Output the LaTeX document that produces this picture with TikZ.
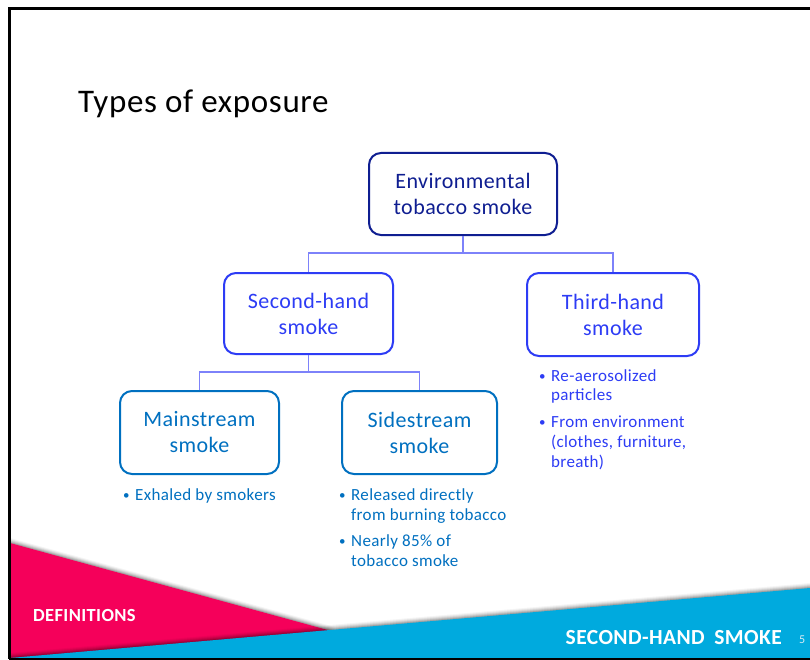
\documentclass[tikz,border=0pt]{standalone}
\usepackage{fontspec}
\setmainfont{Carlito}[LetterSpace=2]
\usetikzlibrary{calc}
\definecolor{navy}{RGB}{15,30,145}
\definecolor{brblue}{RGB}{45,60,245}
\definecolor{medblue}{RGB}{0,112,192}
\definecolor{connc}{RGB}{125,130,250}
\definecolor{pinkc}{RGB}{245,0,90}
\definecolor{cyanc}{RGB}{0,170,222}
\definecolor{pagenum}{RGB}{215,235,245}
\begin{document}
\begin{tikzpicture}[x=1pt,y=1pt,
  box/.style={draw, rounded corners=12pt, line width=2pt, fill=white, align=center,
              font=\fontsize{22}{26}\selectfont, inner sep=0pt},
  conn/.style={draw=connc, line width=1.6pt},
  txt/.style={anchor=base west, inner sep=0pt, font=\fontsize{17}{20}\selectfont},
  bul/.style={anchor=base west, inner sep=0pt, font=\fontsize{13}{20}\selectfont},
  footer/.style={inner sep=0pt, text=white, font=\bfseries}
]
\useasboundingbox (0,0) rectangle (810,-660);
\fill[white] (0,0) rectangle (810,-660);

% footer: pink band with shadow
\foreach \d/\o in {5/0.04,4/0.06,3/0.08,2/0.1,1/0.14} {
  \fill[black,opacity=\o] (10,{-543+\d}) -- (335,{-632+\d}) -- (10,-660) -- cycle;
}
\fill[pinkc] (10,-543) -- (335,-632) -- (10,-660) -- cycle;
% blue band with shadow
\foreach \d/\o in {5/0.04,4/0.06,3/0.08,2/0.1,1/0.14} {
  \fill[black,opacity=\o] (10,{-658+\d}) -- (810,{-588+\d}) -- (810,-660) -- (10,-660) -- cycle;
}
\fill[cyanc] (10,-658) -- (810,-588) -- (810,-660) -- (10,-660) -- cycle;

\node[footer, anchor=base west, font=\bfseries\fontsize{18.5}{22}\selectfont] (defs) at (33,-621) {DEFINITIONS};
\node[footer, anchor=base east, font=\bfseries\fontsize{21.5}{26}\selectfont] (shs) at (782,-644) {SECOND-HAND\hspace{0.45em}SMOKE};
\node[inner sep=0pt, anchor=base west, text=pagenum, font=\fontsize{12}{14}\selectfont] (pg) at (799,-643) {5};

% slide frame
\draw[black, line width=3pt] (9,-659) -- (9,-9) -- (810,-9);
\draw[black, line width=3pt] (9,-659) -- (810,-659);

% title
\node[anchor=base west, inner sep=0pt, font=\fontsize{33}{40}\selectfont] (title) at (78,-113) {Types of exposure};

% boxes
\node[box, draw=navy, text=navy, minimum width=188pt, minimum height=82pt] (env) at (463,-194) {Environmental\\tobacco smoke};
\node[box, draw=brblue, text=brblue, minimum width=169pt, minimum height=81pt] (sec) at (308.5,-313.5) {Second-hand\\smoke};
\node[box, draw=brblue, text=brblue, minimum width=172pt, minimum height=83pt] (third) at (613,-314.5) {Third-hand\\smoke};
\node[box, draw=medblue, text=medblue, minimum width=159pt, minimum height=83pt] (main) at (199.5,-432.5) {Mainstream\\smoke};
\node[box, draw=medblue, text=medblue, minimum width=155pt, minimum height=83pt] (side) at (419.5,-432.5) {Sidestream\\smoke};

% connectors
\coordinate (j1) at (463,-253);
\coordinate (j2) at (308.5,-372);
\draw[conn] (env.south) -- (j1);
\draw[conn] (sec.north) |- (j1) -| (third.north);
\draw[conn] (sec.south) -- (j2);
\draw[conn] (main.north) |- (j2) -| (side.north);

% bullets: mainstream
\node[bul, text=medblue] (bm1) at (123,-499) {•};
\node[txt, text=medblue] (m1) at (135,-500) {Exhaled by smokers};
% bullets: sidestream
\node[bul, text=medblue] (bs1) at (339,-499) {•};
\node[txt, text=medblue] (s1) at (351,-500) {Released directly};
\node[txt, text=medblue] (s2) at (351,-520) {from burning tobacco};
\node[bul, text=medblue] (bs2) at (339,-545) {•};
\node[txt, text=medblue] (s3) at (351,-546) {Nearly 85\% of};
\node[txt, text=medblue] (s4) at (351,-566) {tobacco smoke};
% bullets: third-hand
\node[bul, text=brblue] (bt1) at (539,-380) {•};
\node[txt, text=brblue] (t1) at (551,-381) {Re-aerosolized};
\node[txt, text=brblue] (t2) at (551,-400) {particles};
\node[bul, text=brblue] (bt2) at (539,-426) {•};
\node[txt, text=brblue] (t3) at (551,-427) {From environment};
\node[txt, text=brblue] (t4) at (551,-447) {(clothes, furniture,};
\node[txt, text=brblue] (t5) at (551,-467) {breath)};
\end{tikzpicture}
\end{document}
